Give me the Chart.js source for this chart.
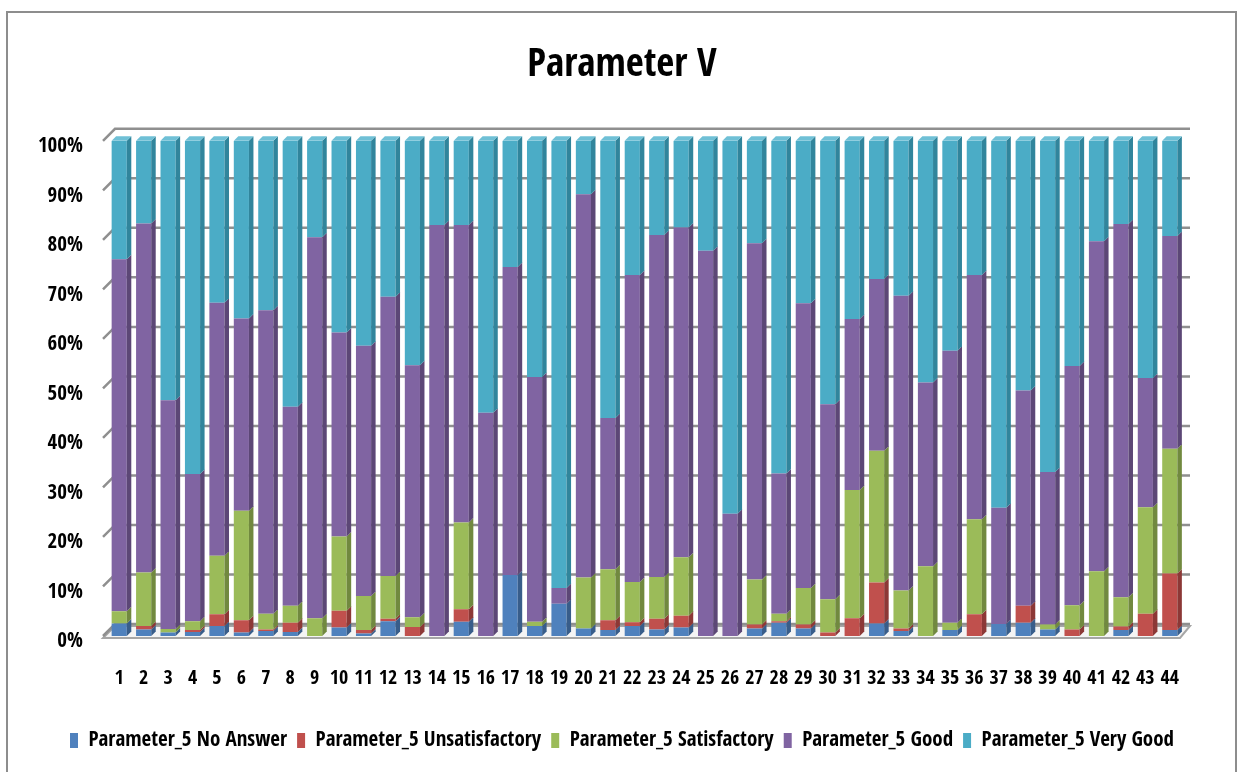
<!DOCTYPE html>
<html lang="en">
<head>
  <meta charset="UTF-8" />
  <title>Parameter V</title>
  <style>
    html, body { margin: 0; padding: 0; background: #fff; }
    #wrap { position: relative; width: 1240px; height: 772px; }
  </style>
  <script src="https://cdn.jsdelivr.net/npm/chart.js"></script>
</head>
<body>
  <div id="wrap">
    <canvas id="chart" width="1240" height="772"></canvas>
  </div>

  <script>
    // categories 1..44
    const categories = ['1','2','3','4','5','6','7','8','9','10','11','12','13','14','15','16','17','18','19','20','21','22',
                        '23','24','25','26','27','28','29','30','31','32','33','34','35','36','37','38','39','40','41','42','43','44'];

    // series (percent of each bar)
    const noAnswer = [2.5, 1.3, 0.7, 0.8, 2.0, 0.7, 1.0, 0.8, 0, 1.7, 0.5, 3.0, 0, 0, 2.9, 0, 12.3, 2.0, 6.5, 1.5, 1.2, 2.0,
                      1.3, 1.7, 0, 0, 1.5, 2.7, 1.5, 0, 0, 2.5, 1.0, 0, 1.2, 0, 2.4, 2.7, 1.3, 0, 0, 1.2, 0, 1.2];
    const unsatisfactory = [0, 0.7, 0, 0.4, 2.4, 2.5, 0.3, 1.9, 0, 3.4, 0.7, 0.5, 1.8, 0, 2.5, 0, 0, 0, 0, 0, 2.0, 0.8,
                            2.2, 2.4, 0, 0, 0.8, 0.3, 0.8, 0.7, 3.6, 8.3, 0.5, 0, 0, 4.4, 0, 3.4, 0, 1.3, 0, 0.7, 4.5, 11.4];
    const satisfactory = [2.5, 10.8, 0.7, 1.8, 11.8, 22.1, 3.2, 3.4, 3.6, 15.0, 6.9, 8.6, 2.0, 0, 17.5, 0, 0, 0.9, 0, 10.3, 10.3, 8.1,
                          8.4, 11.8, 0, 0, 9.1, 1.5, 7.4, 6.7, 25.9, 26.6, 7.7, 14.1, 1.5, 19.2, 0, 0, 1.0, 4.9, 13.1, 5.9, 21.5, 25.2];
    const good = [71.1, 70.5, 46.2, 29.7, 51.1, 38.8, 61.3, 40.2, 76.9, 41.2, 50.5, 56.4, 50.9, 83.0, 60.1, 45.1, 62.2, 49.4, 3.2, 77.4, 30.5, 62.0,
                  69.1, 66.6, 77.8, 24.7, 67.9, 28.3, 57.5, 39.4, 34.5, 34.7, 59.5, 37.1, 54.9, 49.3, 23.5, 43.5, 30.8, 48.3, 66.6, 75.4, 26.1, 43.0];
    const veryGood = [23.9, 16.7, 52.4, 67.3, 32.7, 35.9, 34.2, 53.7, 19.5, 38.7, 41.4, 31.5, 45.3, 17.0, 17.0, 54.9, 25.5, 47.7, 90.3, 10.8, 56.0, 27.1,
                      19.0, 17.5, 22.2, 75.3, 20.7, 67.2, 32.8, 53.2, 36.0, 27.9, 31.3, 48.8, 42.4, 27.1, 74.1, 50.4, 66.9, 45.5, 20.3, 16.8, 47.9, 19.2];

    const seriesNames = ['Parameter_5 No Answer', 'Parameter_5 Unsatisfactory', 'Parameter_5 Satisfactory',
                         'Parameter_5 Good', 'Parameter_5 Very Good'];
    const yTicks = [0, 10, 20, 30, 40, 50, 60, 70, 80, 90, 100];

    const fronts = ['#4F81BD', '#C0504D', '#9BBB59', '#8064A2', '#4BACC6'];
    const sides  = ['#385D8A', '#8C3836', '#71893F', '#5C4776', '#31859C'];
    const tops   = ['#7097CB', '#D0716F', '#B1CC7A', '#9A83B7', '#6FC0D6'];

    const FONT = "'Open Sans Condensed', 'Roboto Condensed', 'DejaVu Sans Condensed', sans-serif";
    const DEPTH = 4.5;

    // title and legend sit centred on the whole frame, not on the plot
    const shiftPlugin = {
      id: 'shift',
      afterLayout(chart) {
        const dx = 26;
        [chart.titleBlock, chart.legend].forEach(b => {
          if (b) { b.left += dx; b.right += dx; }
        });
      }
    };

    // back wall grid, floor and outer frame
    const wallPlugin = {
      id: 'wall',
      beforeDraw(chart) {
        const ctx = chart.ctx;
        ctx.save();
        ctx.strokeStyle = '#8d8d8d';
        ctx.lineWidth = 2;
        ctx.strokeRect(7, 12, 1229, 780);
        ctx.restore();
      },
      beforeDatasetsDraw(chart) {
        const { ctx, chartArea: a, scales: { y } } = chart;
        ctx.save();
        // floor
        const f = y.getPixelForValue(0) + 2;
        ctx.fillStyle = '#f4f4f4';
        ctx.beginPath();
        ctx.moveTo(a.left - 4, f);
        ctx.lineTo(a.right - 2, f);
        ctx.lineTo(a.right + 8, f - 12);
        ctx.lineTo(a.left + 8, f - 12);
        ctx.closePath();
        ctx.fill();
        ctx.strokeStyle = '#a6a6a6';
        ctx.lineWidth = 2;
        ctx.stroke();
        // gridlines on back wall
        ctx.strokeStyle = '#8f8f8f';
        ctx.lineWidth = 2.5;
        yTicks.forEach(v => {
          const yf = y.getPixelForValue(v);
          ctx.beginPath();
          ctx.moveTo(a.left - 4, yf);
          ctx.lineTo(a.left + 8, yf - 12);
          ctx.lineTo(a.right + 8, yf - 12);
          ctx.stroke();
        });
        ctx.restore();
      },
      afterDatasetsDraw(chart) {
        const ctx = chart.ctx;
        ctx.save();
        const n = chart.data.datasets.length;
        chart.data.datasets.forEach((ds, di) => {
          const meta = chart.getDatasetMeta(di);
          meta.data.forEach((bar, i) => {
            const top = Math.min(bar.y, bar.base);
            const bot = Math.max(bar.y, bar.base);
            if (bot - top < 0.3) return;
            const r = bar.x + bar.width / 2;
            const l = bar.x - bar.width / 2;
            ctx.fillStyle = sides[di];
            ctx.beginPath();
            ctx.moveTo(r, top);
            ctx.lineTo(r + DEPTH, top - DEPTH);
            ctx.lineTo(r + DEPTH, bot - DEPTH);
            ctx.lineTo(r, bot);
            ctx.closePath();
            ctx.fill();
            // top cap on the last visible segment
            let isTop = true;
            for (let k = di + 1; k < n; k++) {
              if (chart.data.datasets[k].data[i] > 0) isTop = false;
            }
            if (isTop) {
              ctx.fillStyle = tops[di];
              ctx.beginPath();
              ctx.moveTo(l, top);
              ctx.lineTo(l + DEPTH, top - DEPTH);
              ctx.lineTo(r + DEPTH, top - DEPTH);
              ctx.lineTo(r, top);
              ctx.closePath();
              ctx.fill();
            }
          });
        });
        ctx.restore();
      }
    };

    const allSeries = [noAnswer, unsatisfactory, satisfactory, good, veryGood];

    new Chart(document.getElementById('chart'), {
      type: 'bar',
      data: {
        labels: categories,
        datasets: allSeries.map((d, i) => ({
          label: seriesNames[i],
          data: d,
          backgroundColor: fronts[i],
          borderWidth: 0,
          categoryPercentage: 1,
          barPercentage: 0.62
        }))
      },
      options: {
        responsive: false,
        animation: false,
        layout: { padding: { top: 20, left: 10, right: 58, bottom: 11 } },
        scales: {
          x: {
            stacked: true,
            grid: { display: false, drawTicks: false },
            border: { display: false },
            ticks: { color: '#000', padding: 31, maxRotation: 0, autoSkip: false,
                      font: { family: FONT, size: 20, weight: 'bold' } },
            afterFit(s) { s.height = 84; }
          },
          y: {
            stacked: true,
            min: 0,
            max: 100,
            grid: { display: false, drawTicks: false },
            border: { display: false },
            afterBuildTicks(s) { s.ticks = yTicks.map(v => ({ value: v })); },
            ticks: { color: '#000', padding: 24, labelOffset: 6,
                     font: { family: FONT, size: 21, weight: 'bold' },
                     callback: v => v + '%' },
            afterFit(s) { s.width = 97; }
          }
        },
        plugins: {
          title: {
            display: true,
            text: 'Parameter V',
            color: '#000',
            font: { family: FONT, size: 39, weight: 'bold' },
            padding: { top: 22, bottom: 52 }
          },
          legend: {
            position: 'bottom',
            labels: {
              color: '#000',
              boxWidth: 8,
              boxHeight: 15,
              padding: 10,
              font: { family: FONT, size: 21, weight: 'bold' }
            }
          },
          tooltip: { enabled: false }
        }
      },
      plugins: [shiftPlugin, wallPlugin]
    });
  </script>
</body>
</html>
